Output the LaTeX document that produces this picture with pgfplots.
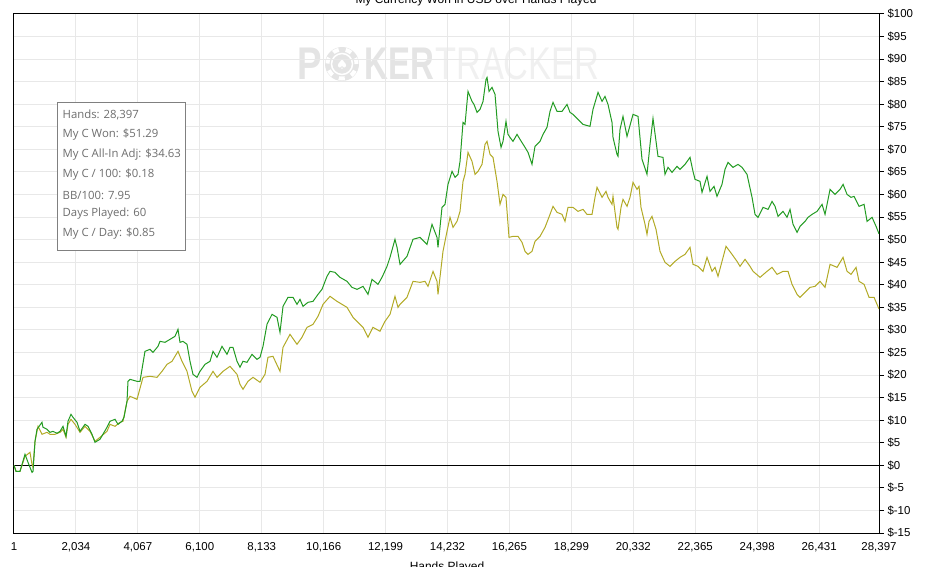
\documentclass[border=0pt]{standalone}
\usepackage{fontspec}
\setmainfont{Liberation Sans}
\newfontfamily\statfont{Open Sans}
\newfontfamily\symfont{DejaVu Sans}
\usepackage{graphicx}
\usepackage{pgfplots}
\pgfplotsset{compat=1.18}
\definecolor{wonc}{RGB}{34,155,34}
\definecolor{adjc}{RGB}{178,170,38}
\definecolor{gridc}{RGB}{232,232,232}
\definecolor{wmA}{RGB}{228,228,228}
\definecolor{wmB}{RGB}{240,240,240}
\definecolor{statc}{RGB}{110,110,110}
\definecolor{boxc}{RGB}{128,128,128}
\begin{document}
\begin{tikzpicture}
\useasboundingbox (0,0) rectangle (925bp,567bp);
% watermark
\node[anchor=base west, inner sep=0, text=wmA, font=\bfseries\fontsize{46}{46}\selectfont] at (297bp,487bp) {\scalebox{0.8}[1]{P}};
\fill[wmA] (342bp,503bp) circle (17bp);
\draw[white, line width=4bp, dash pattern=on 6bp off 7bp] (342bp,503bp) circle (14.5bp);
\draw[white, line width=1.5bp] (342bp,503bp) circle (10.5bp);
\node[text=white, inner sep=0, font=\symfont\fontsize{14}{14}\selectfont] at (342bp,503bp) {♠};
\node[anchor=base west, inner sep=0, text=wmA, font=\bfseries\fontsize{46}{46}\selectfont] at (364bp,487bp) {\scalebox{0.72}[1]{KER}};
\node[anchor=base west, inner sep=0, text=wmB, font=\fontsize{46}{46}\selectfont] at (435bp,487bp) {\scalebox{0.75}[1]{TRACKER}};
\begin{axis}[
  at={(14bp,34bp)}, anchor=south west,
  scale only axis, width=865bp, height=519bp,
  xmin=1, xmax=28397, ymin=-15, ymax=100,
  enlargelimits=false,
  scaled x ticks=false, scaled y ticks=false,
  axis line style={black, line width=1bp},
  grid=major,
  major grid style={gridc, line width=1bp},
  xtick={1,2034,4067,6100,8133,10166,12199,14232,16265,18299,20332,22365,24398,26431,28397},
  xticklabels={1,{2,034},{4,067},{6,100},{8,133},{10,166},{12,199},{14,232},{16,265},{18,299},{20,332},{22,365},{24,398},{26,431},{28,397}},
  ytick={-15,-10,-5,0,5,10,15,20,25,30,35,40,45,50,55,60,65,70,75,80,85,90,95,100},
  yticklabels={\$-15,\$-10,\$-5,\$0,\$5,\$10,\$15,\$20,\$25,\$30,\$35,\$40,\$45,\$50,\$55,\$60,\$65,\$70,\$75,\$80,\$85,\$90,\$95,\$100},
  ytick pos=right, yticklabel pos=right,
  tick align=outside,
  major tick length=5bp,
  xtick style={draw=none},
  ytick style={black, line width=1bp},
  ticklabel style={font=\fontsize{11.5}{13}\selectfont, text=black},
  xticklabel style={yshift=-1bp},
]
\addplot[black, line width=1bp, forget plot] coordinates {(1,0) (28397,0)};
\addplot[adjc, line width=1bp] coordinates {
(1,0) (67,-1.33) (198,-1.33) (362,1.99) (526,2.88) (592,0.22) (625,-0.44) (691,5.32) (789,8.64) (920,6.87) (1084,7.31) (1183,6.87) (1347,6.87) (1511,7.31) (1610,7.98) (1708,6.20) (1774,9.08) (1872,10.19) (2004,9.08) (2168,7.31) (2332,8.64) (2496,7.53) (2660,5.32) (2824,6.20) (3054,7.53) (3152,9.08) (3317,8.64) (3481,9.53) (3579,9.75) (3711,14.18) (3809,15.29) (4039,14.62) (4236,19.49) (4466,19.72) (4695,19.49) (4860,20.82) (5024,22.37) (5188,23.04) (5385,25.25) (5516,23.04) (5680,20.82) (5844,16.39) (5943,15.06) (6107,17.28) (6337,18.61) (6534,20.82) (6665,19.49) (6862,20.82) (7092,21.93) (7322,20.16) (7420,17.94) (7519,16.84) (7683,18.61) (7847,19.49) (8077,18.39) (8241,20.16) (8339,23.93) (8503,24.15) (8733,20.82) (8832,26.14) (9062,29.02) (9291,26.81) (9455,28.36) (9620,30.57) (9817,31.24) (9981,33.01) (10145,35.67) (10375,37.44) (10605,36.33) (10933,35.00) (11130,32.79) (11458,30.57) (11622,28.36) (11786,30.57) (12016,29.69) (12180,31.90) (12344,33.45) (12508,37.44) (12607,35.00) (12673,35.67) (12902,37.22) (13099,40.76) (13329,40.54) (13493,40.76) (13592,39.65) (13756,42.98) (13887,40.76) (13920,37.88) (14084,47.41) (14216,51.84) (14314,54.94) (14413,52.72) (14544,54.05) (14643,56.27) (14741,62.91) (14807,64.47) (14905,69.34) (15036,67.35) (15135,64.47) (15234,65.13) (15365,66.68) (15463,71.11) (15529,71.78) (15628,68.90) (15726,68.23) (15857,62.91) (15956,57.82) (16054,60.03) (16152,59.37) (16251,50.51) (16382,50.73) (16546,50.73) (16678,49.40) (16776,47.41) (16875,46.74) (17006,47.41) (17104,49.62) (17269,50.73) (17433,52.72) (17597,55.60) (17695,57.38) (17827,56.05) (17991,55.60) (18089,54.05) (18188,57.15) (18352,57.15) (18516,56.27) (18680,56.71) (18811,55.60) (18976,55.60) (19074,59.37) (19140,61.59) (19304,59.37) (19435,60.70) (19501,59.37) (19632,57.82) (19665,59.59) (19796,52.72) (19829,52.28) (19928,57.15) (19993,58.93) (20125,57.38) (20223,59.37) (20322,62.69) (20453,61.14) (20519,61.81) (20584,57.15) (20716,53.39) (20781,51.17) (20847,54.05) (20945,55.16) (21077,52.28) (21208,47.41) (21372,44.97) (21536,44.08) (21701,45.19) (21865,46.08) (22029,46.74) (22193,48.30) (22291,44.53) (22456,44.08) (22620,42.98) (22751,46.08) (22915,42.98) (23014,43.86) (23112,41.87) (23243,45.19) (23375,48.52) (23572,46.74) (23736,45.19) (23834,44.08) (23999,45.64) (24163,44.08) (24262,42.98) (24492,41.65) (24721,42.98) (24885,43.86) (25049,42.31) (25246,42.98) (25410,42.98) (25542,40.10) (25706,37.88) (25804,37.22) (25969,38.32) (26133,39.43) (26297,39.65) (26461,40.76) (26625,39.43) (26790,44.53) (27020,43.86) (27217,46.08) (27348,42.98) (27479,42.31) (27643,43.86) (27742,40.76) (27906,40.10) (28070,37.22) (28234,37.22) (28397,34.63)
};
\addplot[wonc, line width=1bp] coordinates {
(1,0) (67,-1.33) (198,-1.33) (362,2.44) (461,0.66) (592,-1.55) (625,-1.33) (691,5.32) (756,7.98) (920,9.53) (953,8.42) (1084,7.98) (1183,7.31) (1281,7.53) (1413,7.09) (1511,7.53) (1610,8.64) (1708,6.42) (1774,9.75) (1872,11.30) (1938,10.63) (2069,9.53) (2168,7.53) (2332,9.08) (2430,8.64) (2562,6.87) (2660,5.10) (2824,5.76) (3054,8.42) (3152,9.75) (3317,10.19) (3415,9.08) (3546,9.75) (3612,10.63) (3711,14.18) (3743,18.61) (3809,19.05) (4039,18.61) (4137,18.61) (4301,25.25) (4466,25.70) (4564,25.03) (4728,26.36) (4794,27.47) (4958,27.25) (5122,27.91) (5286,28.58) (5385,30.13) (5450,27.25) (5549,27.47) (5680,26.81) (5779,23.04) (5877,20.16) (6009,19.49) (6107,20.82) (6271,22.37) (6435,23.04) (6534,25.25) (6665,23.93) (6829,26.36) (6993,24.59) (7092,26.14) (7190,26.14) (7322,23.04) (7420,21.71) (7519,23.04) (7650,22.82) (7814,24.59) (7978,23.48) (8077,23.93) (8175,26.36) (8307,31.24) (8471,33.45) (8635,32.79) (8733,29.46) (8832,35.22) (8996,37.22) (9160,37.22) (9291,35.67) (9390,36.77) (9488,35.22) (9652,36.11) (9817,36.33) (9981,37.88) (10112,38.99) (10276,41.87) (10375,42.98) (10539,42.76) (10703,41.65) (10933,40.76) (11097,39.43) (11261,38.99) (11458,39.65) (11622,37.88) (11753,41.20) (11950,40.10) (12082,41.65) (12246,44.08) (12344,46.08) (12508,50.07) (12574,48.30) (12673,44.53) (12902,46.30) (13099,50.07) (13329,50.51) (13559,48.96) (13723,53.39) (13887,50.51) (13920,48.30) (14051,57.15) (14150,57.82) (14248,62.25) (14380,65.13) (14478,63.80) (14577,64.47) (14643,67.35) (14741,75.98) (14807,75.54) (14905,82.85) (15036,80.64) (15102,79.97) (15201,78.20) (15299,78.86) (15398,80.64) (15496,85.51) (15529,85.95) (15595,82.85) (15693,83.74) (15792,82.19) (15890,73.99) (15989,70.45) (16054,71.78) (16152,76.21) (16218,73.33) (16284,72.66) (16382,71.78) (16514,73.33) (16612,72.22) (16776,70.45) (16875,69.34) (17006,66.68) (17104,70.67) (17269,71.78) (17367,73.33) (17498,74.88) (17597,78.42) (17695,80.42) (17827,78.42) (17991,78.42) (18155,79.97) (18253,78.20) (18352,77.76) (18516,76.65) (18680,75.54) (18910,75.10) (19008,78.86) (19173,82.63) (19304,80.64) (19402,81.74) (19501,79.97) (19632,75.98) (19665,72.66) (19796,68.90) (19829,68.45) (19895,74.43) (19993,77.31) (20125,72.88) (20322,77.76) (20486,77.31) (20617,67.79) (20781,64.47) (20880,71.11) (20978,76.87) (21142,68.45) (21306,68.23) (21372,64.47) (21471,66.02) (21602,64.91) (21766,66.24) (21865,65.57) (22029,66.68) (22193,68.23) (22291,65.13) (22357,63.36) (22521,62.91) (22587,60.48) (22751,64.02) (22849,60.70) (22981,61.81) (23079,59.59) (23243,62.25) (23342,65.57) (23440,67.12) (23605,66.02) (23769,66.68) (23900,66.02) (24064,64.47) (24229,59.37) (24327,55.60) (24426,54.94) (24590,57.15) (24754,56.71) (24885,58.48) (24984,57.38) (25082,55.16) (25246,56.27) (25377,54.94) (25476,56.71) (25575,53.39) (25706,51.62) (25804,52.95) (25969,54.05) (26067,54.94) (26198,55.60) (26363,56.27) (26527,57.82) (26625,55.60) (26790,61.14) (26954,60.03) (27118,61.14) (27217,62.25) (27348,60.03) (27479,59.37) (27578,59.59) (27742,57.38) (27906,57.82) (28005,54.05) (28169,54.94) (28300,52.95) (28397,51.29)
};
\end{axis}
% stats box
\draw[boxc, line width=1bp, fill=white] (57.5bp,316bp) rectangle (185.5bp,464.5bp);
\begin{scope}[every node/.style={anchor=west, inner sep=0, text=statc, font=\statfont\fontsize{11.4}{13}\selectfont}]
\node at (62.5bp,452bp) {Hands: 28,397};
\node at (62.5bp,432bp) {My C Won: \$51.29};
\node at (62.5bp,412bp) {My C All-In Adj: \$34.63};
\node at (62.5bp,392bp) {My C / 100: \$0.18};
\node at (62.5bp,372bp) {BB/100: 7.95};
\node at (62.5bp,353bp) {Days Played: 60};
\node at (62.5bp,333bp) {My C / Day: \$0.85};
\end{scope}
% title and axis label, cut by the picture's edges as in the reference
\node[anchor=base, inner sep=0, font=\fontsize{12}{14}\selectfont] at (476bp,563bp) {My Currency Won in USD over Hands Played};
\node[anchor=base, inner sep=0, font=\fontsize{12}{14}\selectfont] at (447bp,-3bp) {Hands Played};
\end{tikzpicture}
\end{document}
